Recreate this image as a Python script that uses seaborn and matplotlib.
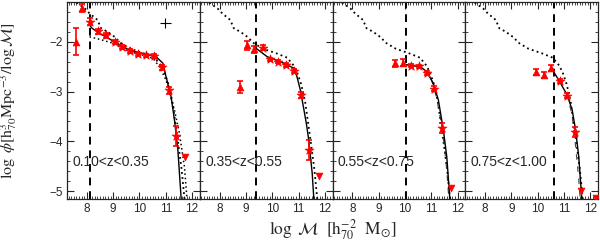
import numpy as np
import seaborn as sns
import matplotlib
matplotlib.use("Agg")
import matplotlib.pyplot as plt
from matplotlib.ticker import MultipleLocator

# Redshift bins and completeness limits
z_labels = ["0.10<z<0.35", "0.35<z<0.55", "0.55<z<0.75", "0.75<z<1.00"]
mass_limits = [8.1, 9.38, 10.05, 10.6]

# Measured points (log M, log phi, error) per redshift bin
pts_x = [
    [7.59, 7.82, 8.10, 8.44, 8.73, 9.05, 9.34, 9.62, 9.94, 10.25, 10.55, 10.85, 11.12, 11.39],
    [8.78, 9.04, 9.32, 9.64, 9.93, 10.22, 10.54, 10.84, 11.11, 11.38],
    [9.63, 9.94, 10.23, 10.55, 10.83, 11.12, 11.40],
    [9.94, 10.23, 10.52, 10.83, 11.12, 11.40],
]
pts_y = [
    [-2.00, -1.33, -1.60, -1.79, -1.87, -2.01, -2.10, -2.19, -2.25, -2.27, -2.29, -2.51, -2.97, -3.90],
    [-2.90, -2.07, -2.15, -2.12, -2.35, -2.40, -2.47, -2.58, -3.06, -4.17],
    [-2.43, -2.42, -2.48, -2.49, -2.63, -2.94, -3.74],
    [-2.60, -2.67, -2.53, -2.79, -3.08, -3.81],
]
pts_err = [
    [0.27, 0.08, 0.07, 0.05, 0.05, 0.04, 0.04, 0.04, 0.03, 0.03, 0.04, 0.05, 0.07, 0.20],
    [0.12, 0.09, 0.07, 0.05, 0.03, 0.03, 0.04, 0.04, 0.06, 0.20],
    [0.07, 0.07, 0.03, 0.03, 0.04, 0.05, 0.10],
    [0.06, 0.06, 0.06, 0.04, 0.05, 0.10],
]

# Upper limits
lim_x = [[11.74], [11.76], [11.74], [11.66, 12.2]]
lim_y = [[-4.31], [-4.69], [-4.94], [-5.00, -5.14]]

# Schechter fits (solid)
fit_x = [
    [8.12, 8.20, 8.48, 9.05, 9.62, 10.25, 10.63, 10.89, 11.01, 11.20, 11.33, 11.46, 11.58, 11.62],
    [9.38, 9.81, 10.31, 10.82, 10.94, 11.07, 11.20, 11.30, 11.39, 11.52, 11.60],
    [10.05, 10.30, 10.58, 10.83, 11.08, 11.27, 11.46, 11.59, 11.69, 11.72],
    [10.60, 10.80, 11.12, 11.31, 11.44, 11.56, 11.66, 11.70],
]
fit_y = [
    [-1.68, -1.73, -1.83, -2.00, -2.17, -2.25, -2.30, -2.43, -2.70, -3.10, -3.57, -4.17, -5.11, -5.40],
    [-2.13, -2.30, -2.40, -2.53, -2.70, -2.97, -3.35, -3.65, -3.98, -4.64, -5.30],
    [-2.46, -2.48, -2.50, -2.60, -2.84, -3.17, -3.77, -4.31, -5.04, -5.30],
    [-2.60, -2.77, -3.07, -3.37, -3.77, -4.31, -5.04, -5.30],
]

# Alternative fits (thin dashed), only in the two high-z bins
alt_x = [[], [], [11.00, 11.20, 11.35, 11.50, 11.60, 11.66], [11.10, 11.30, 11.44, 11.55, 11.62]]
alt_y = [[], [], [-2.75, -3.12, -3.55, -4.10, -4.65, -5.10], [-3.05, -3.45, -4.10, -4.70, -5.20]]

# Local mass function (dotted)
local_x = [7.45, 7.65, 7.92, 8.10, 8.40, 8.54, 8.79, 9.05, 9.30, 9.65, 10.15, 10.57,
           10.82, 10.95, 11.10, 11.25, 11.45, 11.60, 11.72]
local_y = [-1.15, -1.23, -1.33, -1.43, -1.56, -1.73, -1.80, -1.90, -2.03, -2.14, -2.23, -2.32,
           -2.48, -2.62, -2.85, -3.20, -3.95, -4.55, -5.20]

# Second dotted curve in the lowest bin
low_x = [8.10, 8.48, 8.99, 9.49, 10.00, 10.51, 10.76, 11.01, 11.33, 11.52, 11.71, 11.80, 11.83]
low_y = [-1.90, -1.95, -2.03, -2.17, -2.25, -2.33, -2.50, -2.77, -3.37, -3.84, -4.51, -5.11, -5.30]

sns.set_style("ticks")
plt.rcParams["font.family"] = ["Liberation Sans", "DejaVu Sans"]
plt.rcParams["mathtext.fontset"] = "stix"

fig, axes = plt.subplots(1, 4, figsize=(6, 2.44), dpi=100, sharey=True)
fig.subplots_adjust(left=0.112, right=0.997, top=0.992, bottom=0.184, wspace=0)

for i, ax in enumerate(axes):
    # reference curves
    sns.lineplot(x=local_x, y=local_y, ax=ax, color="black", linestyle=(0, (1, 1.8)),
                 linewidth=1.3, sort=False, estimator=None)
    if i == 0:
        sns.lineplot(x=low_x, y=low_y, ax=ax, color="black", linestyle=(0, (1, 1.8)),
                     linewidth=1.1, sort=False, estimator=None)
    if alt_x[i]:
        sns.lineplot(x=alt_x[i], y=alt_y[i], ax=ax, color="#444444", linestyle=(0, (5, 6)),
                     linewidth=0.8, sort=False, estimator=None)
    sns.lineplot(x=fit_x[i], y=fit_y[i], ax=ax, color="black", linewidth=1.0,
                 sort=False, estimator=None)

    # completeness limit
    ax.axvline(mass_limits[i], color="black", linestyle=(0, (4, 3)), linewidth=1.4)

    # data points
    xs = np.array(pts_x[i])
    ys = np.array(pts_y[i])
    ax.errorbar(xs, ys, yerr=pts_err[i], fmt="none", ecolor="red", elinewidth=1.2,
                capsize=2.2, capthick=1.2, zorder=4)
    below = xs < mass_limits[i] - 0.05
    sns.scatterplot(x=xs[below], y=ys[below], ax=ax, marker="^", color="red",
                    s=24, edgecolor="red", linewidth=0.5, zorder=5)
    sns.scatterplot(x=xs[~below], y=ys[~below], ax=ax, marker="*", color="red",
                    s=45, edgecolor="red", linewidth=0.5, zorder=5)
    sns.scatterplot(x=lim_x[i], y=lim_y[i], ax=ax, marker="v", color="red",
                    s=24, edgecolor="red", linewidth=0.5, zorder=5)

    ax.text(7.45, -4.42, z_labels[i], fontsize=10, va="center", ha="left")

    ax.set_xlim(7.25, 12.3)
    ax.set_ylim(-5.16, -1.2)
    ax.xaxis.set_major_locator(MultipleLocator(1))
    ax.xaxis.set_minor_locator(MultipleLocator(0.1))
    ax.yaxis.set_major_locator(MultipleLocator(1))
    ax.yaxis.set_minor_locator(MultipleLocator(0.2))
    ax.tick_params(which="both", direction="in", top=True, right=True, labelsize=8.5, pad=3)
    ax.tick_params(which="major", length=5, width=0.8)
    ax.tick_params(which="minor", length=2.5, width=0.6)
    for sp in ax.spines.values():
        sp.set_linewidth(0.9)
    ax.set_xlabel("")
    ax.set_ylabel("")

# typical error cross
axes[0].errorbar([10.98], [-1.62], xerr=0.2, yerr=0.1, fmt="none", ecolor="black",
                 elinewidth=0.8, capsize=0)

axes[0].set_ylabel(r"$\log\ \phi[\mathrm{h}^{3}_{70}\mathrm{Mpc}^{-3}/\log\mathcal{M}]$",
                   fontsize=11.5)
axes[0].yaxis.set_label_coords(-0.36, 0.5)
fig.text(0.555, 0.06, r"$\log\ \mathcal{M}\ \ [\mathrm{h}_{70}^{-2}\ \ \mathrm{M}_{\odot}]$",
         fontsize=12.5, ha="center", va="center")

fig.savefig("out.png", dpi=100)
